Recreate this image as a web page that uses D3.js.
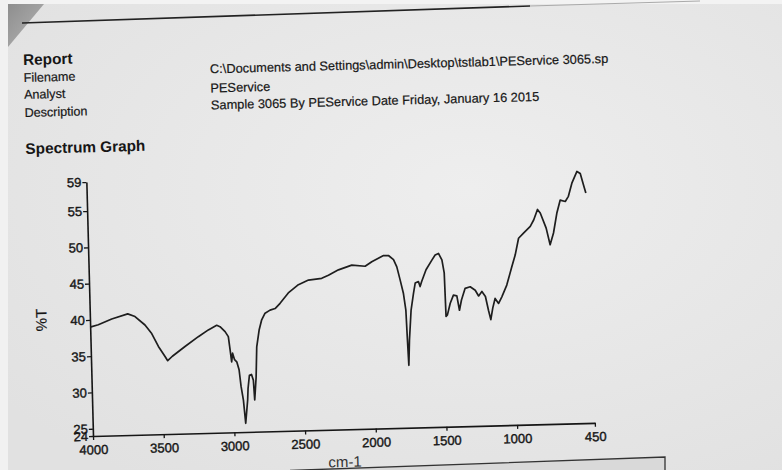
<!DOCTYPE html>
<html>
<head>
<meta charset="utf-8">
<script src="https://cdn.jsdelivr.net/npm/d3@7"></script>
<style>
html,body{margin:0;padding:0;background:#e6e6e6;}
svg{display:block;}
</style>
</head>
<body>
<svg id="chart" width="782" height="470"></svg>
<script>
// ---- data ----
const wavenumbers = [4000,3942,3846,3732,3681,3612,3566,3521,3476,3458,3424,3333,3237,3165,3105,3082,3047,3025,3015,3006,2998,2985,2970,2955,2944,2930,2918,2900,2895,2883,2868,2856,2850,2836,2826,2806,2786,2761,2725,2689,2653,2593,2520,2448,2354,2306,2234,2139,2045,1997,1913,1878,1843,1821,1800,1779,1765,1760,1754,1745,1728,1708,1694,1671,1660,1648,1615,1572,1548,1524,1501,1487,1482,1472,1450,1426,1402,1386,1370,1342,1306,1271,1248,1224,1200,1181,1166,1150,1132,1108,1084,1047,1008,982,955,919,870,844,816,797,758,733,707,680,654,618,595,568,530,507,486,471];
const transmittance = [39.0,39.3,40.05,40.7,40.3,39.1,37.9,36.1,34.7,34.1,34.7,36.0,37.3,38.2,38.8,38.6,37.9,37.2,35.4,33.7,34.9,34.0,33.7,32.6,30.3,28.4,25.2,28.4,30.0,31.8,31.9,31.1,28.4,31.5,35.7,38.0,39.4,40.3,40.7,40.9,41.6,43.0,44.1,44.7,44.9,45.3,46.0,46.6,46.4,47.0,47.8,47.8,47.2,46.2,44.4,42.5,40.2,36.5,32.6,36.1,40.2,42.5,43.9,44.1,43.4,44.1,45.7,47.0,47.7,47.9,47.0,45.2,39.2,39.4,41.0,42.1,42.0,40.0,41.4,43.0,43.2,42.7,41.9,42.5,41.8,39.9,38.6,40.2,41.5,40.8,41.7,43.3,45.8,47.4,49.7,50.4,51.3,52.2,53.6,53.1,51.0,48.7,50.3,53.0,54.8,54.6,55.3,57.1,58.7,58.4,56.8,55.7];
const xDomain = [4000, 450];
const yDomain = [24, 59];
const xTicks = [4000,3500,3000,2500,2000,1500,1000,450];
const yTicks = [24,25,30,35,40,45,50,55,59];
const reportTitle = "Report";
const headerLabels = ["Filename","Analyst","Description"];
const headerValues = ["C:\\Documents and Settings\\admin\\Desktop\\tstlab1\\PEService 3065.sp","PEService","Sample 3065 By PEService Date Friday, January 16 2015"];
const graphTitle = "Spectrum Graph";
const yLabel = "%T";
const xLabel = "cm-1";

// ---- drawing ----
const svg = d3.select("#chart");
const FONT = "'Liberation Sans', Arial, sans-serif";
const INK = "#161616";

// paper background
const defs = svg.append("defs");
const grad = defs.append("radialGradient").attr("id","paper").attr("cx","0.6").attr("cy","0.4").attr("r","0.75");
grad.append("stop").attr("offset","0").attr("stop-color","#eeeeee");
grad.append("stop").attr("offset","1").attr("stop-color","#e1e1e1");
svg.append("rect").attr("width",782).attr("height",470).attr("fill","url(#paper)");
svg.append("rect").attr("width",782).attr("height",4).attr("fill","#f3f3f3");
svg.append("rect").attr("width",8).attr("height",470).attr("fill","#f1f1f1");
const wedge = defs.append("linearGradient").attr("id","wedge").attr("x1","0").attr("y1","0").attr("x2","1").attr("y2","1");
wedge.append("stop").attr("offset","0").attr("stop-color","#8e8e8e");
wedge.append("stop").attr("offset","1").attr("stop-color","#b5b5b5");
svg.append("polygon").attr("points","8,4 44,4 8,47").attr("fill","url(#wedge)");
// top rule
svg.append("line").attr("x1",22).attr("y1",23).attr("x2",530).attr("y2",6)
  .attr("stroke","#222").attr("stroke-width",1.6);
svg.append("line").attr("x1",530).attr("y1",6).attr("x2",700).attr("y2",1)
  .attr("stroke","#aaa").attr("stroke-width",1);
// bottom box
svg.append("polygon").attr("points","290,470.5 665,457 665,470").attr("fill","#d9d9d9");
svg.append("polyline").attr("points","290,470.5 665,457 665,470").attr("fill","none")
  .attr("stroke","#333").attr("stroke-width",1.3);

// rotated page group (scan is tilted)
const g = svg.append("g").attr("transform","rotate(-1.5,93,436)");

const x = d3.scaleLinear().domain(xDomain).range([93, 595]);
const y = d3.scaleLinear().domain(yDomain).range([436, 182]);

// header
g.append("text").attr("x",33).attr("y",63.3).text(reportTitle)
  .attr("font-family",FONT).attr("font-weight","bold").attr("font-size",15.3).attr("fill",INK);
const labelY = [80.3, 97.2, 115.3];
const valueY = [76.5, 95.7, 112.7];
headerLabels.forEach((t,i)=>{
  g.append("text").attr("x",33).attr("y",labelY[i]).text(t)
    .attr("font-family",FONT).attr("font-size",12.6).attr("fill",INK)
    .attr("stroke",INK).attr("stroke-width",0.2);
});
headerValues.forEach((t,i)=>{
  g.append("text").attr("x",219.5).attr("y",valueY[i]).text(t)
    .attr("font-family",FONT).attr("font-size",12.8).attr("fill",INK)
    .attr("stroke",INK).attr("stroke-width",0.2);
});
g.append("text").attr("x",33).attr("y",152.3).text(graphTitle)
  .attr("font-family",FONT).attr("font-weight","bold").attr("font-size",15.3).attr("fill",INK);

// axes
const xAxis = d3.axisBottom(x).tickValues(xTicks).tickFormat(d3.format("d"))
  .tickSize(4).tickSizeOuter(0).tickPadding(5);
const yAxis = d3.axisLeft(y).tickValues(yTicks).tickFormat(d3.format("d"))
  .tickSize(4).tickSizeOuter(0).tickPadding(1);

const gx = g.append("g").attr("transform","translate(0,436)").call(xAxis);
const gy = g.append("g").attr("transform","translate(93,0)").call(yAxis);
[gx, gy].forEach(a=>{
  a.select(".domain").attr("stroke",INK).attr("stroke-width",1.6);
  a.selectAll(".tick line").attr("stroke",INK).attr("stroke-width",1.3);
  a.selectAll(".tick text").attr("font-family",FONT).attr("font-size",13)
    .attr("fill",INK).attr("stroke",INK).attr("stroke-width",0.4);
});

// axis titles
g.append("text").attr("transform","translate(44,318.7) rotate(-90)")
  .attr("text-anchor","middle").attr("dominant-baseline","central")
  .attr("font-family",FONT).attr("font-size",15).attr("fill",INK)
  .attr("stroke",INK).attr("stroke-width",0.2).text(yLabel);
g.append("text").attr("x",344.2).attr("y",473.6).attr("text-anchor","middle")
  .attr("font-family",FONT).attr("font-size",15).attr("fill","#333").text(xLabel);

// spectrum
const pts = wavenumbers.map((w,i)=>[w, transmittance[i]]);
const line = d3.line().x(d=>x(d[0])).y(d=>y(d[1]));
g.append("path").datum(pts).attr("d",line).attr("fill","none")
  .attr("stroke","#1e1e1e").attr("stroke-width",1.7).attr("stroke-linejoin","round");
</script>
</body>
</html>
